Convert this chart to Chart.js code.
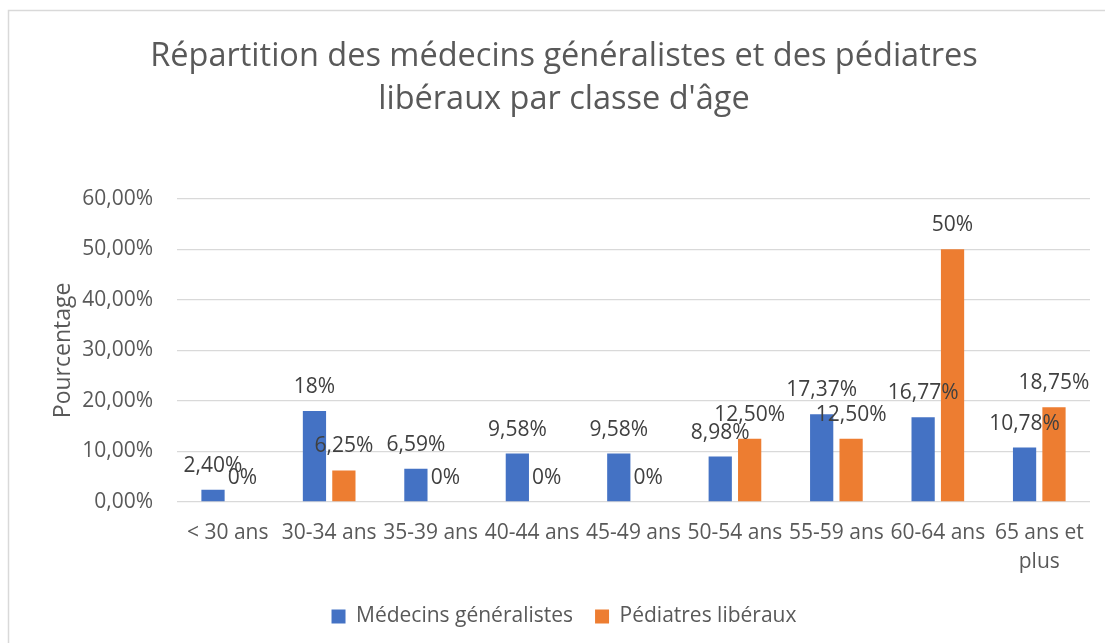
<!DOCTYPE html>
<html lang="fr">
<head>
<meta charset="utf-8">
<title>Répartition des médecins généralistes et des pédiatres libéraux</title>
<script src="https://cdn.jsdelivr.net/npm/chart.js@4.4.0/dist/chart.umd.min.js"></script>
<style>
  html, body { margin: 0; padding: 0; background: #fff; }
  .chart-box { position: relative; width: 1105px; height: 643px; }
</style>
</head>
<body>
<div class="chart-box">
  <canvas id="ageChart"></canvas>
</div>
<script>
const categories = ['< 30 ans', '30-34 ans', '35-39 ans', '40-44 ans', '45-49 ans',
  '50-54 ans', '55-59 ans', '60-64 ans', ['65 ans et', 'plus']];
const generalistes = [2.40, 18.00, 6.59, 9.58, 9.58, 8.98, 17.37, 16.77, 10.78];
const pediatres = [0, 6.25, 0, 0, 0, 12.50, 12.50, 50.00, 18.75];
const generalistesLabels = ['2,40%', '18%', '6,59%', '9,58%', '9,58%', '8,98%', '17,37%', '16,77%', '10,78%'];
const pediatresLabels = ['0%', '6,25%', '0%', '0%', '0%', '12,50%', '12,50%', '50%', '18,75%'];
const yTicks = [0, 10, 20, 30, 40, 50, 60];

const FONT = '"Open Sans", Lato, sans-serif';
const GREY = '#595959';

// frame around the chart (only top and left edges visible in the picture)
const framePlugin = {
  id: 'frame',
  beforeDraw(chart) {
    const { ctx } = chart;
    ctx.save();
    ctx.fillStyle = '#fff';
    ctx.fillRect(0, 0, chart.width, chart.height);
    ctx.strokeStyle = '#d9d9d9';
    ctx.lineWidth = 1.5;
    ctx.strokeRect(8.5, 10.5, chart.width + 20, chart.height + 20);
    ctx.restore();
  }
};

// value labels above each bar
const valueLabels = {
  id: 'valueLabels',
  afterDatasetsDraw(chart) {
    const { ctx } = chart;
    const texts = [generalistesLabels, pediatresLabels];
    ctx.save();
    ctx.font = '21px ' + FONT;
    ctx.fillStyle = '#404040';
    ctx.textAlign = 'center';
    ctx.textBaseline = 'middle';
    chart.data.datasets.forEach((ds, i) => {
      chart.getDatasetMeta(i).data.forEach((bar, j) => {
        ctx.fillText(texts[i][j], bar.x, bar.y - 24);
      });
    });
    ctx.restore();
  }
};

const fmt = v => v.toFixed(2).replace('.', ',') + '%';

new Chart(document.getElementById('ageChart'), {
  type: 'bar',
  data: {
    labels: categories,
    datasets: [
      { label: 'Médecins généralistes', data: generalistes, backgroundColor: '#4472C4' },
      { label: 'Pédiatres libéraux', data: pediatres, backgroundColor: '#ED7D31' }
    ]
  },
  options: {
    responsive: true,
    maintainAspectRatio: false,
    animation: false,
    categoryPercentage: 0.58,
    barPercentage: 0.79,
    layout: { padding: { left: 38, right: 15, top: 0, bottom: 6 } },
    plugins: {
      tooltip: { enabled: false },
      title: {
        display: true,
        text: ['Répartition des médecins généralistes et des pédiatres', 'libéraux par classe d\'âge'],
        color: GREY,
        font: { family: FONT, size: 32.5, weight: 'normal', lineHeight: 1.32 },
        padding: { top: 35, bottom: 78 }
      },
      legend: {
        position: 'bottom',
        labels: {
          color: GREY,
          font: { family: FONT, size: 21 },
          boxWidth: 14,
          boxHeight: 14,
          padding: 22
        }
      }
    },
    scales: {
      x: {
        grid: { display: false, drawTicks: false },
        border: { display: false },
        ticks: {
          color: GREY,
          font: { family: FONT, size: 21, lineHeight: 1.38 },
          padding: 17,
          maxRotation: 0,
          autoSkip: false
        },
        afterFit(scale) { scale.height = 82; }
      },
      y: {
        min: 0,
        max: 60,
        afterBuildTicks(scale) { scale.ticks = yTicks.map(v => ({ value: v })); },
        grid: { color: '#d9d9d9', lineWidth: 1.3, drawTicks: false },
        border: { display: false },
        ticks: {
          color: GREY,
          font: { family: FONT, size: 21 },
          padding: 24,
          callback: v => fmt(v)
        },
        title: {
          display: true,
          text: 'Pourcentage',
          color: GREY,
          font: { family: FONT, size: 23 },
          padding: { top: 12, bottom: 0 }
        },
        afterFit(scale) { scale.width = 139; }
      }
    }
  },
  plugins: [framePlugin, valueLabels]
});
</script>
</body>
</html>
